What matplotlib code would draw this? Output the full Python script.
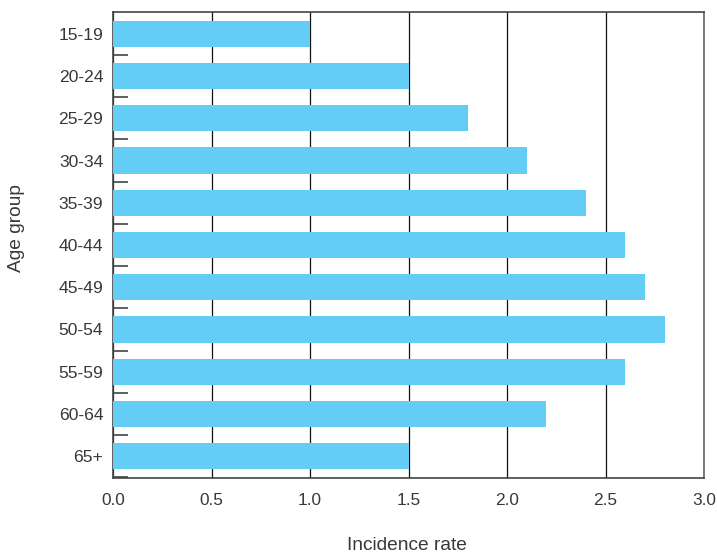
import matplotlib
matplotlib.use("Agg")
import matplotlib.pyplot as plt
import numpy as np

# ── Data ──────────────────────────────────────────────────────────────────────
AGE_GROUPS = ["15-19", "20-24", "25-29", "30-34", "35-39", "40-44",
              "45-49", "50-54", "55-59", "60-64", "65+"]
RATES = [1.0, 1.5, 1.8, 2.1, 2.4, 2.6, 2.7, 2.8, 2.6, 2.2, 1.5]
X_TICKS = [0.0, 0.5, 1.0, 1.5, 2.0, 2.5, 3.0]

BAR_COLOR = "#63cdf5"
TEXT_COLOR = "#383838"
SPINE_COLOR = "#444444"

plt.rcParams.update({
    "font.family": ["Liberation Sans", "DejaVu Sans"],
    "font.size": 12,
})

fig = plt.figure(figsize=(7.17, 5.56), dpi=100)
ax = fig.add_axes([113 / 717, 1 - 478 / 556, (704 - 113) / 717, (478 - 12) / 556])

y = np.arange(len(AGE_GROUPS))
ax.barh(y, RATES, height=0.62, color=BAR_COLOR, zorder=3)

ax.set_xlim(0, 3.0)
ax.set_ylim(len(AGE_GROUPS) - 0.48, -0.52)

# vertical grid lines
ax.set_xticks(X_TICKS)
ax.set_xticklabels([f"{t:.1f}" for t in X_TICKS])
ax.grid(axis="x", color="#111111", linewidth=0.9, zorder=1)
ax.set_axisbelow(True)

# category labels centred, short inward ticks between categories
ax.set_yticks(y)
ax.set_yticklabels(AGE_GROUPS)
ax.set_yticks(np.arange(1, len(AGE_GROUPS) + 1) - 0.5, minor=True)
ax.tick_params(axis="y", which="major", length=0, pad=7, colors=TEXT_COLOR, labelsize=12.6)
ax.tick_params(axis="y", which="minor", direction="in", length=10.5, width=1.2,
               color=SPINE_COLOR)
ax.tick_params(axis="x", which="major", length=0, pad=11, colors=TEXT_COLOR, labelsize=12.4)

for side in ["left", "bottom", "top", "right"]:
    ax.spines[side].set_color(SPINE_COLOR)
    ax.spines[side].set_linewidth(1.2)
ax.spines["right"].set_color("#666666")

fig.text(407 / 717, 1 - 545 / 556, "Incidence rate", ha="center", va="center",
         fontsize=13.8, color=TEXT_COLOR)
fig.text(17 / 717, 1 - 228 / 556, "Age group", ha="center", va="center",
         rotation=90, fontsize=13.8, color=TEXT_COLOR)

fig.savefig("out.png", dpi=100)
